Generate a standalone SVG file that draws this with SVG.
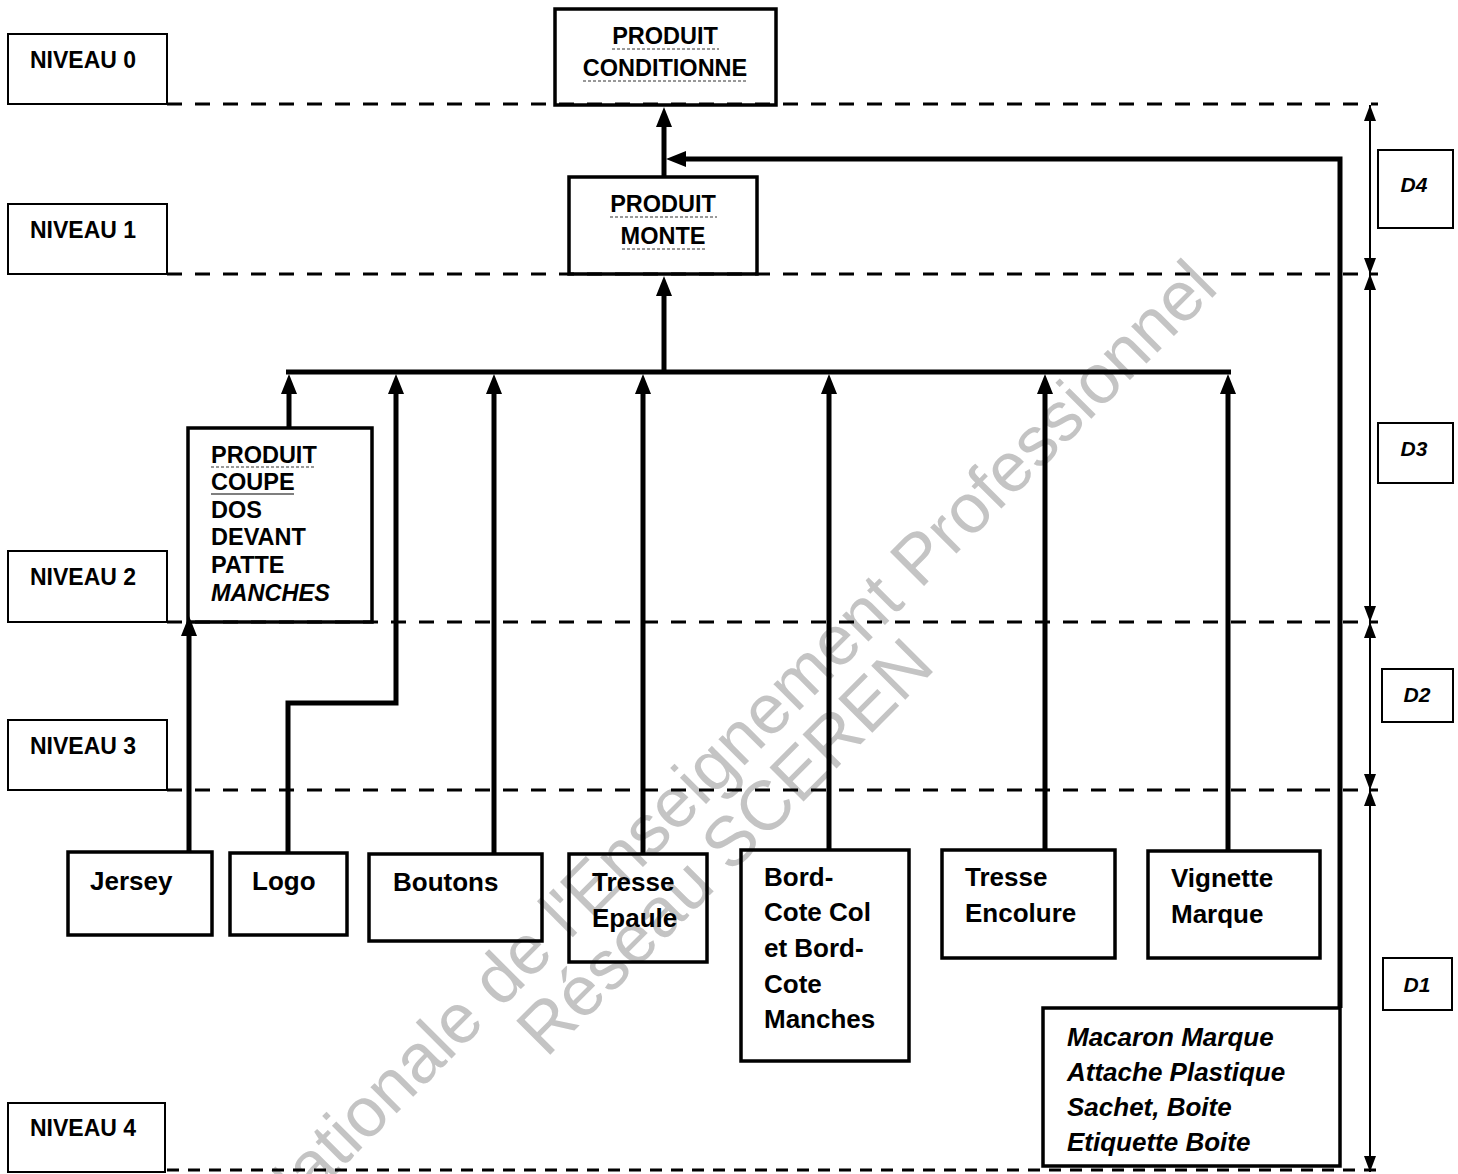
<svg xmlns="http://www.w3.org/2000/svg" width="1458" height="1174" viewBox="0 0 1458 1174">
<defs>
<style>
text{font-family:"Liberation Sans",Arial,sans-serif;fill:#000}
.lv{font-size:23px;font-weight:bold}
.hd{font-size:23.5px;font-weight:bold}
.nd{font-size:26px;font-weight:bold}
.it{font-style:italic}
.dm{font-size:21px;font-weight:bold;font-style:italic}
.box{fill:none;stroke:#000;stroke-width:3.5}
.lbox{fill:none;stroke:#000;stroke-width:2}
.dash{fill:none;stroke:#000;stroke-width:3;stroke-dasharray:15 13}
.dashb{fill:none;stroke:#000;stroke-width:3;stroke-dasharray:12 9}
.conn{fill:none;stroke:#000;stroke-width:5}
.dim{fill:none;stroke:#000;stroke-width:2}
.ul{stroke:#333;stroke-width:1;stroke-dasharray:3 2}
.wm{font-size:70px;fill:#c4c4c4}
</style>
<marker id="ah" markerUnits="userSpaceOnUse" markerWidth="22" markerHeight="18" refX="10" refY="8" orient="auto">
<path d="M0,0 L20,8 L0,16 z" fill="#000"/>
</marker>
<marker id="ahs" markerUnits="userSpaceOnUse" markerWidth="18" markerHeight="14" refX="16" refY="6" orient="auto">
<path d="M0,0 L16,6 L0,12 z" fill="#000"/>
</marker>
</defs>
<rect width="1458" height="1174" fill="#fff"/>

<g id="watermark">
<text class="wm" text-anchor="end" transform="translate(1220,290) rotate(-45)">Nationale de l'Enseignement Professionnel</text>
<text class="wm" text-anchor="end" transform="translate(937,668) rotate(-45)">Réseau SCEREN</text>
</g>

<g id="levels-lines">
<line class="dash" x1="167" y1="104" x2="1378" y2="104"/>
<line class="dash" x1="167" y1="274" x2="1378" y2="274"/>
<line class="dash" x1="167" y1="622" x2="1378" y2="622"/>
<line class="dash" x1="167" y1="790" x2="1378" y2="790"/>
<line class="dashb" x1="167" y1="1170" x2="1378" y2="1170"/>
</g>

<g id="niveau0"><rect class="lbox" x="8" y="34" width="159" height="70"/><text class="lv" x="30" y="68">NIVEAU 0</text></g>
<g id="niveau1"><rect class="lbox" x="8" y="204" width="159" height="70"/><text class="lv" x="30" y="238">NIVEAU 1</text></g>
<g id="niveau2"><rect class="lbox" x="8" y="551" width="159" height="71"/><text class="lv" x="30" y="585">NIVEAU 2</text></g>
<g id="niveau3"><rect class="lbox" x="8" y="720" width="159" height="70"/><text class="lv" x="30" y="754">NIVEAU 3</text></g>
<g id="niveau4"><rect class="lbox" x="8" y="1103" width="157" height="69"/><text class="lv" x="30" y="1136">NIVEAU 4</text></g>

<g id="connectors">
<line class="conn" x1="664" y1="177" x2="664" y2="117" marker-end="url(#ah)"/>
<polyline class="conn" points="1340,1008 1340,159 676,159" marker-end="url(#ah)"/>
<line class="conn" x1="664" y1="372" x2="664" y2="286" marker-end="url(#ah)"/>
<line class="conn" x1="286" y1="372" x2="1231" y2="372"/>
<line class="conn" x1="289" y1="428" x2="289" y2="384" marker-end="url(#ah)"/>
<polyline class="conn" points="288,852 288,703 396,703 396,384" marker-end="url(#ah)"/>
<line class="conn" x1="494" y1="854" x2="494" y2="384" marker-end="url(#ah)"/>
<line class="conn" x1="643" y1="854" x2="643" y2="384" marker-end="url(#ah)"/>
<line class="conn" x1="829" y1="850" x2="829" y2="384" marker-end="url(#ah)"/>
<line class="conn" x1="1045" y1="850" x2="1045" y2="384" marker-end="url(#ah)"/>
<line class="conn" x1="1228" y1="851" x2="1228" y2="384" marker-end="url(#ah)"/>
<line class="conn" x1="189" y1="852" x2="189" y2="626" marker-end="url(#ah)"/>
</g>

<g id="dimension">
<line class="dim" x1="1370" y1="122" x2="1370" y2="258"/>
<line class="dim" x1="1370" y1="290" x2="1370" y2="606"/>
<line class="dim" x1="1370" y1="638" x2="1370" y2="774"/>
<line class="dim" x1="1370" y1="806" x2="1370" y2="1156"/>
<line class="dim" x1="1370" y1="125" x2="1370" y2="105" marker-end="url(#ahs)"/>
<line class="dim" x1="1370" y1="254" x2="1370" y2="274" marker-end="url(#ahs)"/>
<line class="dim" x1="1370" y1="294" x2="1370" y2="274" marker-end="url(#ahs)"/>
<line class="dim" x1="1370" y1="602" x2="1370" y2="622" marker-end="url(#ahs)"/>
<line class="dim" x1="1370" y1="642" x2="1370" y2="622" marker-end="url(#ahs)"/>
<line class="dim" x1="1370" y1="770" x2="1370" y2="790" marker-end="url(#ahs)"/>
<line class="dim" x1="1370" y1="810" x2="1370" y2="790" marker-end="url(#ahs)"/>
<line class="dim" x1="1370" y1="1152" x2="1370" y2="1172" marker-end="url(#ahs)"/>
</g>

<g id="d4"><rect class="lbox" x="1378" y="150" width="75" height="78"/><text class="dm" x="1414" y="192" text-anchor="middle">D4</text></g>
<g id="d3"><rect class="lbox" x="1378" y="423" width="75" height="60"/><text class="dm" x="1414" y="456" text-anchor="middle">D3</text></g>
<g id="d2"><rect class="lbox" x="1382" y="669" width="71" height="53"/><text class="dm" x="1417" y="702" text-anchor="middle">D2</text></g>
<g id="d1"><rect class="lbox" x="1383" y="958" width="69" height="52"/><text class="dm" x="1417" y="992" text-anchor="middle">D1</text></g>

<g id="produit-conditionne">
<rect class="box" x="555" y="9" width="221" height="96"/>
<text class="hd" x="665" y="44" text-anchor="middle">PRODUIT</text>
<text class="hd" x="665" y="76" text-anchor="middle">CONDITIONNE</text>
<line class="ul" x1="612" y1="49" x2="719" y2="49"/>
<line class="ul" x1="583" y1="81" x2="748" y2="81"/>
</g>

<g id="produit-monte">
<rect class="box" x="569" y="177" width="188" height="97"/>
<text class="hd" x="663" y="212" text-anchor="middle">PRODUIT</text>
<text class="hd" x="663" y="244" text-anchor="middle">MONTE</text>
<line class="ul" x1="610" y1="217" x2="717" y2="217"/>
<line class="ul" x1="622" y1="249" x2="705" y2="249"/>
</g>

<g id="produit-coupe">
<rect class="box" x="188" y="428" width="184" height="194"/>
<text class="hd" x="211" y="463">PRODUIT</text>
<text class="hd" x="211" y="490">COUPE</text>
<text class="hd" x="211" y="518">DOS</text>
<text class="hd" x="211" y="545">DEVANT</text>
<text class="hd" x="211" y="573">PATTE</text>
<text class="hd it" x="211" y="601">MANCHES</text>
<line class="ul" x1="211" y1="467" x2="316" y2="467"/>
<line x1="211" y1="494" x2="294" y2="494" stroke="#000" stroke-width="1.2"/>
</g>

<g id="jersey"><rect class="box" x="68" y="852" width="144" height="83"/><text class="nd" x="90" y="890">Jersey</text></g>
<g id="logo"><rect class="box" x="230" y="853" width="117" height="82"/><text class="nd" x="252" y="890">Logo</text></g>
<g id="boutons"><rect class="box" x="369" y="854" width="173" height="87"/><text class="nd" x="393" y="891">Boutons</text></g>
<g id="tresse-epaule"><rect class="box" x="569" y="854" width="138" height="108"/><text class="nd" x="592" y="891">Tresse</text><text class="nd" x="592" y="927">Epaule</text></g>
<g id="bord-cote"><rect class="box" x="741" y="850" width="168" height="211"/>
<text class="nd" x="764" y="886">Bord-</text><text class="nd" x="764" y="921">Cote Col</text><text class="nd" x="764" y="957">et Bord-</text><text class="nd" x="764" y="993">Cote</text><text class="nd" x="764" y="1028">Manches</text></g>
<g id="tresse-encolure"><rect class="box" x="942" y="850" width="173" height="108"/><text class="nd" x="965" y="886">Tresse</text><text class="nd" x="965" y="922">Encolure</text></g>
<g id="vignette"><rect class="box" x="1148" y="851" width="172" height="107"/><text class="nd" x="1171" y="887">Vignette</text><text class="nd" x="1171" y="923">Marque</text></g>
<g id="macaron"><rect class="box" x="1043" y="1008" width="297" height="158"/>
<text class="nd it" x="1067" y="1046">Macaron Marque</text><text class="nd it" x="1067" y="1081">Attache Plastique</text><text class="nd it" x="1067" y="1116">Sachet, Boite</text><text class="nd it" x="1067" y="1151">Etiquette Boite</text></g>
</svg>
